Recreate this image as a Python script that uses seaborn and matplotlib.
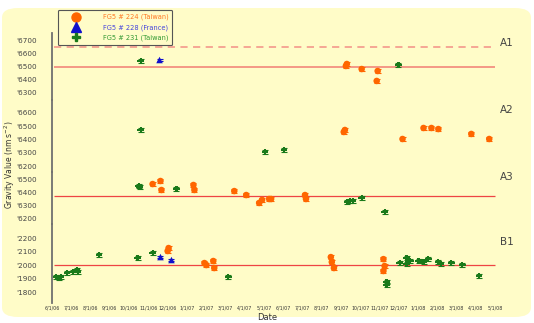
import numpy as np
import pandas as pd
import matplotlib
matplotlib.use('Agg')
import matplotlib.pyplot as plt
import seaborn as sns
from matplotlib.lines import Line2D
from matplotlib.patches import FancyBboxPatch

# x axis: months since 6/1/06
month_labels = ['6/1/06', '7/1/06', '8/1/06', '9/1/06', '10/1/06', '11/1/06', '12/1/06',
                '1/1/07', '2/1/07', '3/1/07', '4/1/07', '5/1/07', '6/1/07', '7/1/07',
                '8/1/07', '9/1/07', '10/1/07', '11/1/07', '12/1/07', '1/1/08', '2/1/08',
                '3/1/08', '4/1/08', '5/1/08']

stations = ['FG5 # 224 (Taiwan)', 'FG5 # 228 (France)', 'FG5 # 231 (Taiwan)']
station_err = {stations[0]: 12, stations[1]: 8, stations[2]: 12}

# segment A1
a1_224_x = [15.25, 15.3, 16.07, 16.9, 16.85]
a1_224_y = [6504, 6519, 6481, 6466, 6391]
a1_228_x = [5.58]
a1_228_y = [6549]
a1_231_x = [4.60, 17.98]
a1_231_y = [6542, 6511]

# segment A2
a2_224_x = [15.14, 15.2, 18.19, 19.28, 19.69, 20.05, 21.76, 22.69]
a2_224_y = [6457, 6472, 6404, 6487, 6487, 6479, 6442, 6404]
a2_231_x = [4.60, 11.06, 12.04]
a2_231_y = [6472, 6306, 6321]

# segment A3
a3_224_x = [5.22, 5.63, 5.68, 7.34, 7.39, 9.46, 10.08, 10.75, 10.9, 11.27, 11.37, 13.13, 13.18]
a3_224_y = [6462, 6485, 6417, 6455, 6417, 6409, 6379, 6319, 6342, 6349, 6349, 6379, 6349]
a3_231_x = [4.5, 4.55, 6.46, 15.3, 15.45, 15.6, 16.07, 17.26]
a3_231_y = [6447, 6440, 6425, 6326, 6334, 6334, 6357, 6251]

# segment B1
b1_224_x = [6.0, 6.05, 7.91, 8.01, 8.37, 8.42, 14.47, 14.52, 14.63, 17.2, 17.26, 17.2]
b1_224_y = [2104, 2126, 2015, 2000, 2030, 1978, 2059, 2022, 1978, 2044, 1993, 1956]
b1_228_x = [5.63, 6.2]
b1_228_y = [2059, 2037]
b1_231_x = [0.21, 0.36, 0.47, 0.78, 1.09, 1.29, 1.34, 2.43, 4.44, 5.22, 9.15, 17.36, 17.36,
            18.04, 18.4, 18.4, 18.6, 19.02, 19.28, 19.53, 20.05, 20.2, 20.72, 21.29, 22.17]
b1_231_y = [1911, 1904, 1911, 1941, 1948, 1963, 1948, 2074, 2052, 2089, 1911, 1874, 1852,
            2015, 2052, 2007, 2030, 2030, 2022, 2044, 2022, 2007, 2015, 2000, 1919]

# reference lines
a1_ref, a1_dash = 6500, 6647
a3_ref = 6372
b1_ref = 2000

a1_ticks = [6700, 6600, 6500, 6400, 6300]
a2_ticks = [6600, 6500, 6400, 6300, 6200]
a3_ticks = [6500, 6400, 6300, 6200]
b1_ticks = [2200, 2100, 2000, 1900, 1800]

rows = []
def add(seg, st, xs, ys):
    for x, y in zip(xs, ys):
        rows.append(dict(segment=seg, station=st, month=x, value=y, err=station_err[st]))

add('A1', stations[0], a1_224_x, a1_224_y)
add('A1', stations[1], a1_228_x, a1_228_y)
add('A1', stations[2], a1_231_x, a1_231_y)
add('A2', stations[0], a2_224_x, a2_224_y)
add('A2', stations[2], a2_231_x, a2_231_y)
add('A3', stations[0], a3_224_x, a3_224_y)
add('A3', stations[2], a3_231_x, a3_231_y)
add('B1', stations[0], b1_224_x, b1_224_y)
add('B1', stations[1], b1_228_x, b1_228_y)
add('B1', stations[2], b1_231_x, b1_231_y)
df = pd.DataFrame(rows)

colors = {stations[0]: '#FF6600', stations[1]: '#1010CC', stations[2]: '#1A7A1A'}
markers = {stations[0]: 'o', stations[1]: '^', stations[2]: 'P'}
text_colors = ['#FF7722', '#4444DD', '#339933']

sns.set_style('white')
plt.rcParams['font.family'] = ['DejaVu Sans']

W, H = 534, 323
fig = plt.figure(figsize=(W / 100, H / 100), dpi=100)
fig.patch.set_facecolor('white')
bg = FancyBboxPatch((2 / W, 6 / H), 529 / W, 1 - 8 / H - 6 / H,
                    boxstyle='round,pad=0,rounding_size=0.03',
                    transform=fig.transFigure, facecolor='#FFFCC8', edgecolor='none', zorder=-5)
fig.patches.append(bg)

left_px, right_px = 52, 530
xlim = ((left_px - 50) / 19.35, (right_px - 50) / 19.35)
line_end = 23.0

segments = [
    ('A1', 33, 100, (6247, 6753), a1_ticks, [6500, 6353]),
    ('A2', 100, 172, (6155, 6698), a2_ticks, [6555, 6502, 6404]),
    ('A3', 172, 224, (6160, 6553), a3_ticks, [6500, 6349]),
    ('B1', 224, 303, (1719, 2304), b1_ticks, [2096, 2044, 1948]),
]

axes = {}
for name, top, bot, ylim, ticks, minor in segments:
    ax = fig.add_axes([left_px / W, 1 - bot / H, (right_px - left_px) / W, (bot - top) / H])
    ax.set_zorder(1)
    ax.patch.set_alpha(0)
    ax.set_xlim(*xlim)
    ax.set_ylim(*ylim)
    for s in ['top', 'right', 'bottom']:
        ax.spines[s].set_visible(False)
    ax.spines['left'].set_color('#707070')
    ax.spines['left'].set_linewidth(1.3)
    ax.set_yticks(ticks)
    ax.set_yticklabels(["'" + str(t) for t in ticks], fontsize=5.2, color='#444444')
    ax.set_yticks(minor, minor=True)
    ax.tick_params(axis='y', which='major', length=0, pad=11)
    ax.tick_params(axis='y', which='minor', length=5, width=0.9, color='#707070', direction='out')
    ax.set_xticks(range(len(month_labels)))
    ax.tick_params(axis='x', which='major', length=0)
    ax.set_xticklabels([])
    sub = df[df['segment'] == name]
    for st in stations:
        d = sub[sub['station'] == st]
        if len(d):
            ax.errorbar(d['month'], d['value'], yerr=d['err'], fmt='none',
                        ecolor=colors[st], elinewidth=0.8, capsize=2, capthick=0.8, zorder=3)
    sns.scatterplot(data=sub, x='month', y='value', hue='station', style='station',
                    palette=colors, markers=markers, s=22, edgecolor='none',
                    legend=False, ax=ax, zorder=4)
    ax.set_xlabel('')
    ax.set_ylabel('')
    axes[name] = ax

axes['A1'].hlines(a1_ref, xlim[0], line_end, color='#F39080', lw=1.3, zorder=2)
axes['A1'].hlines(a1_dash, xlim[0], line_end, color='#F5A090', lw=1.3, ls=(0, (4, 3)), zorder=2)
axes['A3'].hlines(a3_ref, xlim[0], line_end, color='#EE4444', lw=0.9, zorder=2)
axes['B1'].hlines(b1_ref, xlim[0], line_end, color='#EE4444', lw=0.9, zorder=2)

# right side labels
for name, py in [('A1', 43), ('A2', 110), ('A3', 177), ('B1', 242)]:
    fig.text(500 / W, 1 - py / H, name, fontsize=7.5, color='#444444', ha='left', va='center')

# bottom axis labels
bax = axes['B1']
bax.set_xticklabels(month_labels, fontsize=3.4, color='#333333')
bax.tick_params(axis='x', which='major', pad=2)
bax.set_xticks([7.24, 10.08, 12.04, 14.06, 16.07, 21.03, 23.0], minor=True)
bax.tick_params(axis='x', which='minor', length=4, width=0.8, color='#555555', direction='in')
fig.text(267 / W, 1 - 317 / H, 'Date', fontsize=6, color='#333333', ha='center', va='center')
fig.text(10 / W, 1 - 165 / H, 'Gravity Value (nm s$^{-2}$)', fontsize=5.5, color='#333333',
         rotation=90, ha='center', va='center')

# legend
handles = [Line2D([], [], ls='none', marker=markers[s], color=colors[s],
                  markersize=6.5 if s != stations[2] else 5.5) for s in stations]
leg = axes['A1'].legend(handles, stations, loc='upper left',
                        bbox_to_anchor=(58 / W, 1 - 10 / H), bbox_transform=fig.transFigure,
                        borderaxespad=0, fontsize=4.8, labelcolor=text_colors, frameon=True,
                        fancybox=True, facecolor='#FFFCC8', edgecolor='#555555', framealpha=1,
                        handletextpad=1.9, borderpad=0.6, labelspacing=0.55, handlelength=4.2)
leg.get_frame().set_linewidth(0.8)
leg.set_zorder(10)

fig.savefig('out.png', dpi=100)
